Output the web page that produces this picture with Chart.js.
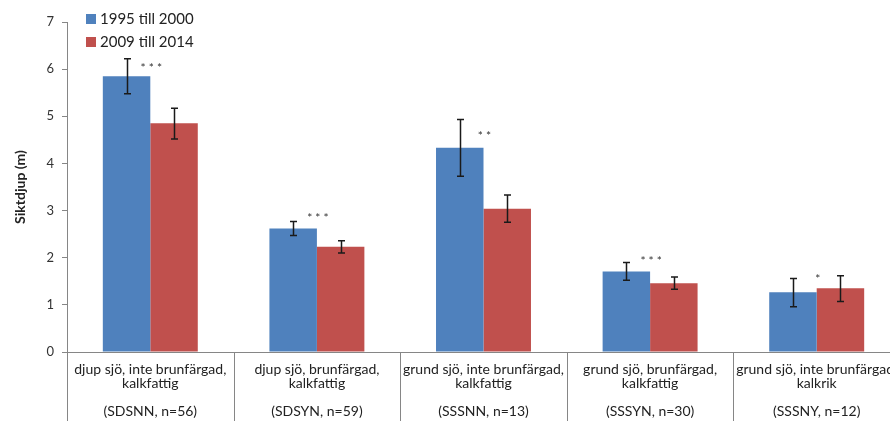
<!DOCTYPE html>
<html>
<head>
<meta charset="utf-8">
<script src="https://cdn.jsdelivr.net/npm/chart.js@4"></script>
<style>
  html, body { margin: 0; padding: 0; background: #fff; overflow: hidden; }
  #wrap { width: 900px; height: 421px; }
</style>
</head>
<body>
<div id="wrap"><canvas id="sikt"></canvas></div>
<script>
// categories (lake types)
const categories = [
  ["djup sjö, inte brunfärgad,", "kalkfattig", "", "(SDSNN, n=56)"],
  ["djup sjö, brunfärgad,", "kalkfattig", "", "(SDSYN, n=59)"],
  ["grund sjö, inte brunfärgad,", "kalkfattig", "", "(SSSNN, n=13)"],
  ["grund sjö, brunfärgad,", "kalkfattig", "", "(SSSYN, n=30)"],
  ["grund sjö, inte brunfärgad,", "kalkrik", "", "(SSSNY, n=12)"]
];
const seriesNames = ["1995 till 2000", "2009 till 2014"];

const early = [5.85, 2.62, 4.33, 1.71, 1.27];
const earlyLow = [5.48, 2.47, 3.73, 1.52, 0.96];
const earlyHigh = [6.22, 2.77, 4.93, 1.90, 1.56];

const late = [4.85, 2.23, 3.04, 1.46, 1.35];
const lateLow = [4.52, 2.10, 2.75, 1.33, 1.07];
const lateHigh = [5.17, 2.36, 3.33, 1.59, 1.62];

// significance marks and the value they sit at
const sigLabels = ["***", "***", "**", "***", "*"];
const sigAt = [6.08, 2.90, 4.64, 1.99, 1.62];

const yTicks = [0, 1, 2, 3, 4, 5, 6, 7];

const blue = '#4F81BD';
const red = '#C0504D';
const axisGray = '#868686';
const fontFam = 'Lato, "Open Sans", sans-serif';

const errorBars = {
  id: 'errorBars',
  afterDatasetsDraw(chart) {
    const { ctx, scales: { y } } = chart;
    const lows = [earlyLow, lateLow];
    const highs = [earlyHigh, lateHigh];
    ctx.save();
    ctx.strokeStyle = '#1a1a1a';
    ctx.lineWidth = 1.5;
    chart.data.datasets.forEach((ds, i) => {
      chart.getDatasetMeta(i).data.forEach((bar, j) => {
        const x = Math.round(bar.x) + 0.5;
        const top = y.getPixelForValue(highs[i][j]);
        const bot = y.getPixelForValue(lows[i][j]);
        ctx.beginPath();
        ctx.moveTo(x, top); ctx.lineTo(x, bot);
        ctx.moveTo(x - 3.5, top); ctx.lineTo(x + 3.5, top);
        ctx.moveTo(x - 3.5, bot); ctx.lineTo(x + 3.5, bot);
        ctx.stroke();
      });
    });
    // asterisks
    ctx.fillStyle = '#333';
    ctx.font = '12px ' + fontFam;
    ctx.textAlign = 'center';
    ctx.textBaseline = 'middle';
    const x = chart.scales.x;
    sigLabels.forEach((s, j) => {
      ctx.fillText(s.split('').join(' '), x.getPixelForValue(j) + 1, y.getPixelForValue(sigAt[j]) + 3);
    });
    ctx.restore();
  }
};

const dividers = {
  id: 'dividers',
  afterDraw(chart) {
    const { ctx, scales: { x }, chartArea } = chart;
    ctx.save();
    ctx.strokeStyle = axisGray;
    ctx.lineWidth = 1;
    const n = categories.length;
    for (let i = 0; i < n; i++) {
      const xp = Math.round(x.getPixelForValue(i) - (x.getPixelForValue(1) - x.getPixelForValue(0)) / 2) + 0.5;
      ctx.beginPath();
      ctx.moveTo(xp, chartArea.bottom);
      ctx.lineTo(xp, chart.height);
      ctx.stroke();
    }
    ctx.restore();
  }
};

const cornerLegend = {
  id: 'cornerLegend',
  afterDraw(chart) {
    const { ctx } = chart;
    ctx.save();
    ctx.font = '15px ' + fontFam;
    ctx.textBaseline = 'middle';
    ctx.textAlign = 'left';
    chart.data.datasets.forEach((ds, i) => {
      const yy = 19 + i * 23;
      ctx.fillStyle = ds.backgroundColor;
      ctx.fillRect(86, yy - 5, 10, 10);
      ctx.fillStyle = '#222';
      ctx.fillText(ds.label, 100, yy);
    });
    ctx.restore();
  }
};

new Chart(document.getElementById('sikt'), {
  type: 'bar',
  data: {
    labels: categories,
    datasets: [
      { label: seriesNames[0], data: early, backgroundColor: blue },
      { label: seriesNames[1], data: late, backgroundColor: red }
    ]
  },
  options: {
    responsive: true,
    maintainAspectRatio: false,
    animation: false,
    categoryPercentage: 0.57,
    barPercentage: 1.0,
    layout: { padding: { top: 22, left: 0, right: 0, bottom: 0 } },
    plugins: {
      legend: { display: false },
      tooltip: { enabled: false }
    },
    scales: {
      x: {
        grid: { display: false },
        border: { display: true, color: axisGray, width: 1 },
        ticks: {
          autoSkip: false,
          maxRotation: 0,
          padding: 2,
          color: '#222',
          font: { family: fontFam, size: 14, lineHeight: 1.0 }
        },
        afterFit: s => { s.height = 69; }
      },
      y: {
        min: 0,
        max: 7,
        afterBuildTicks: s => { s.ticks = yTicks.map(v => ({ value: v })); },
        grid: { drawOnChartArea: false, drawTicks: true, tickLength: 5, color: axisGray },
        border: { display: true, color: axisGray, width: 1 },
        ticks: {
          padding: 8,
          color: '#333',
          font: { family: fontFam, size: 13 }
        },
        title: {
          display: true,
          text: 'Siktdjup (m)',
          color: '#222',
          padding: { top: 12, bottom: 0 },
          font: { family: fontFam, size: 14, weight: 'bold' }
        },
        afterFit: s => { s.width = 67; }
      }
    }
  },
  plugins: [errorBars, dividers, cornerLegend]
});
</script>
</body>
</html>
